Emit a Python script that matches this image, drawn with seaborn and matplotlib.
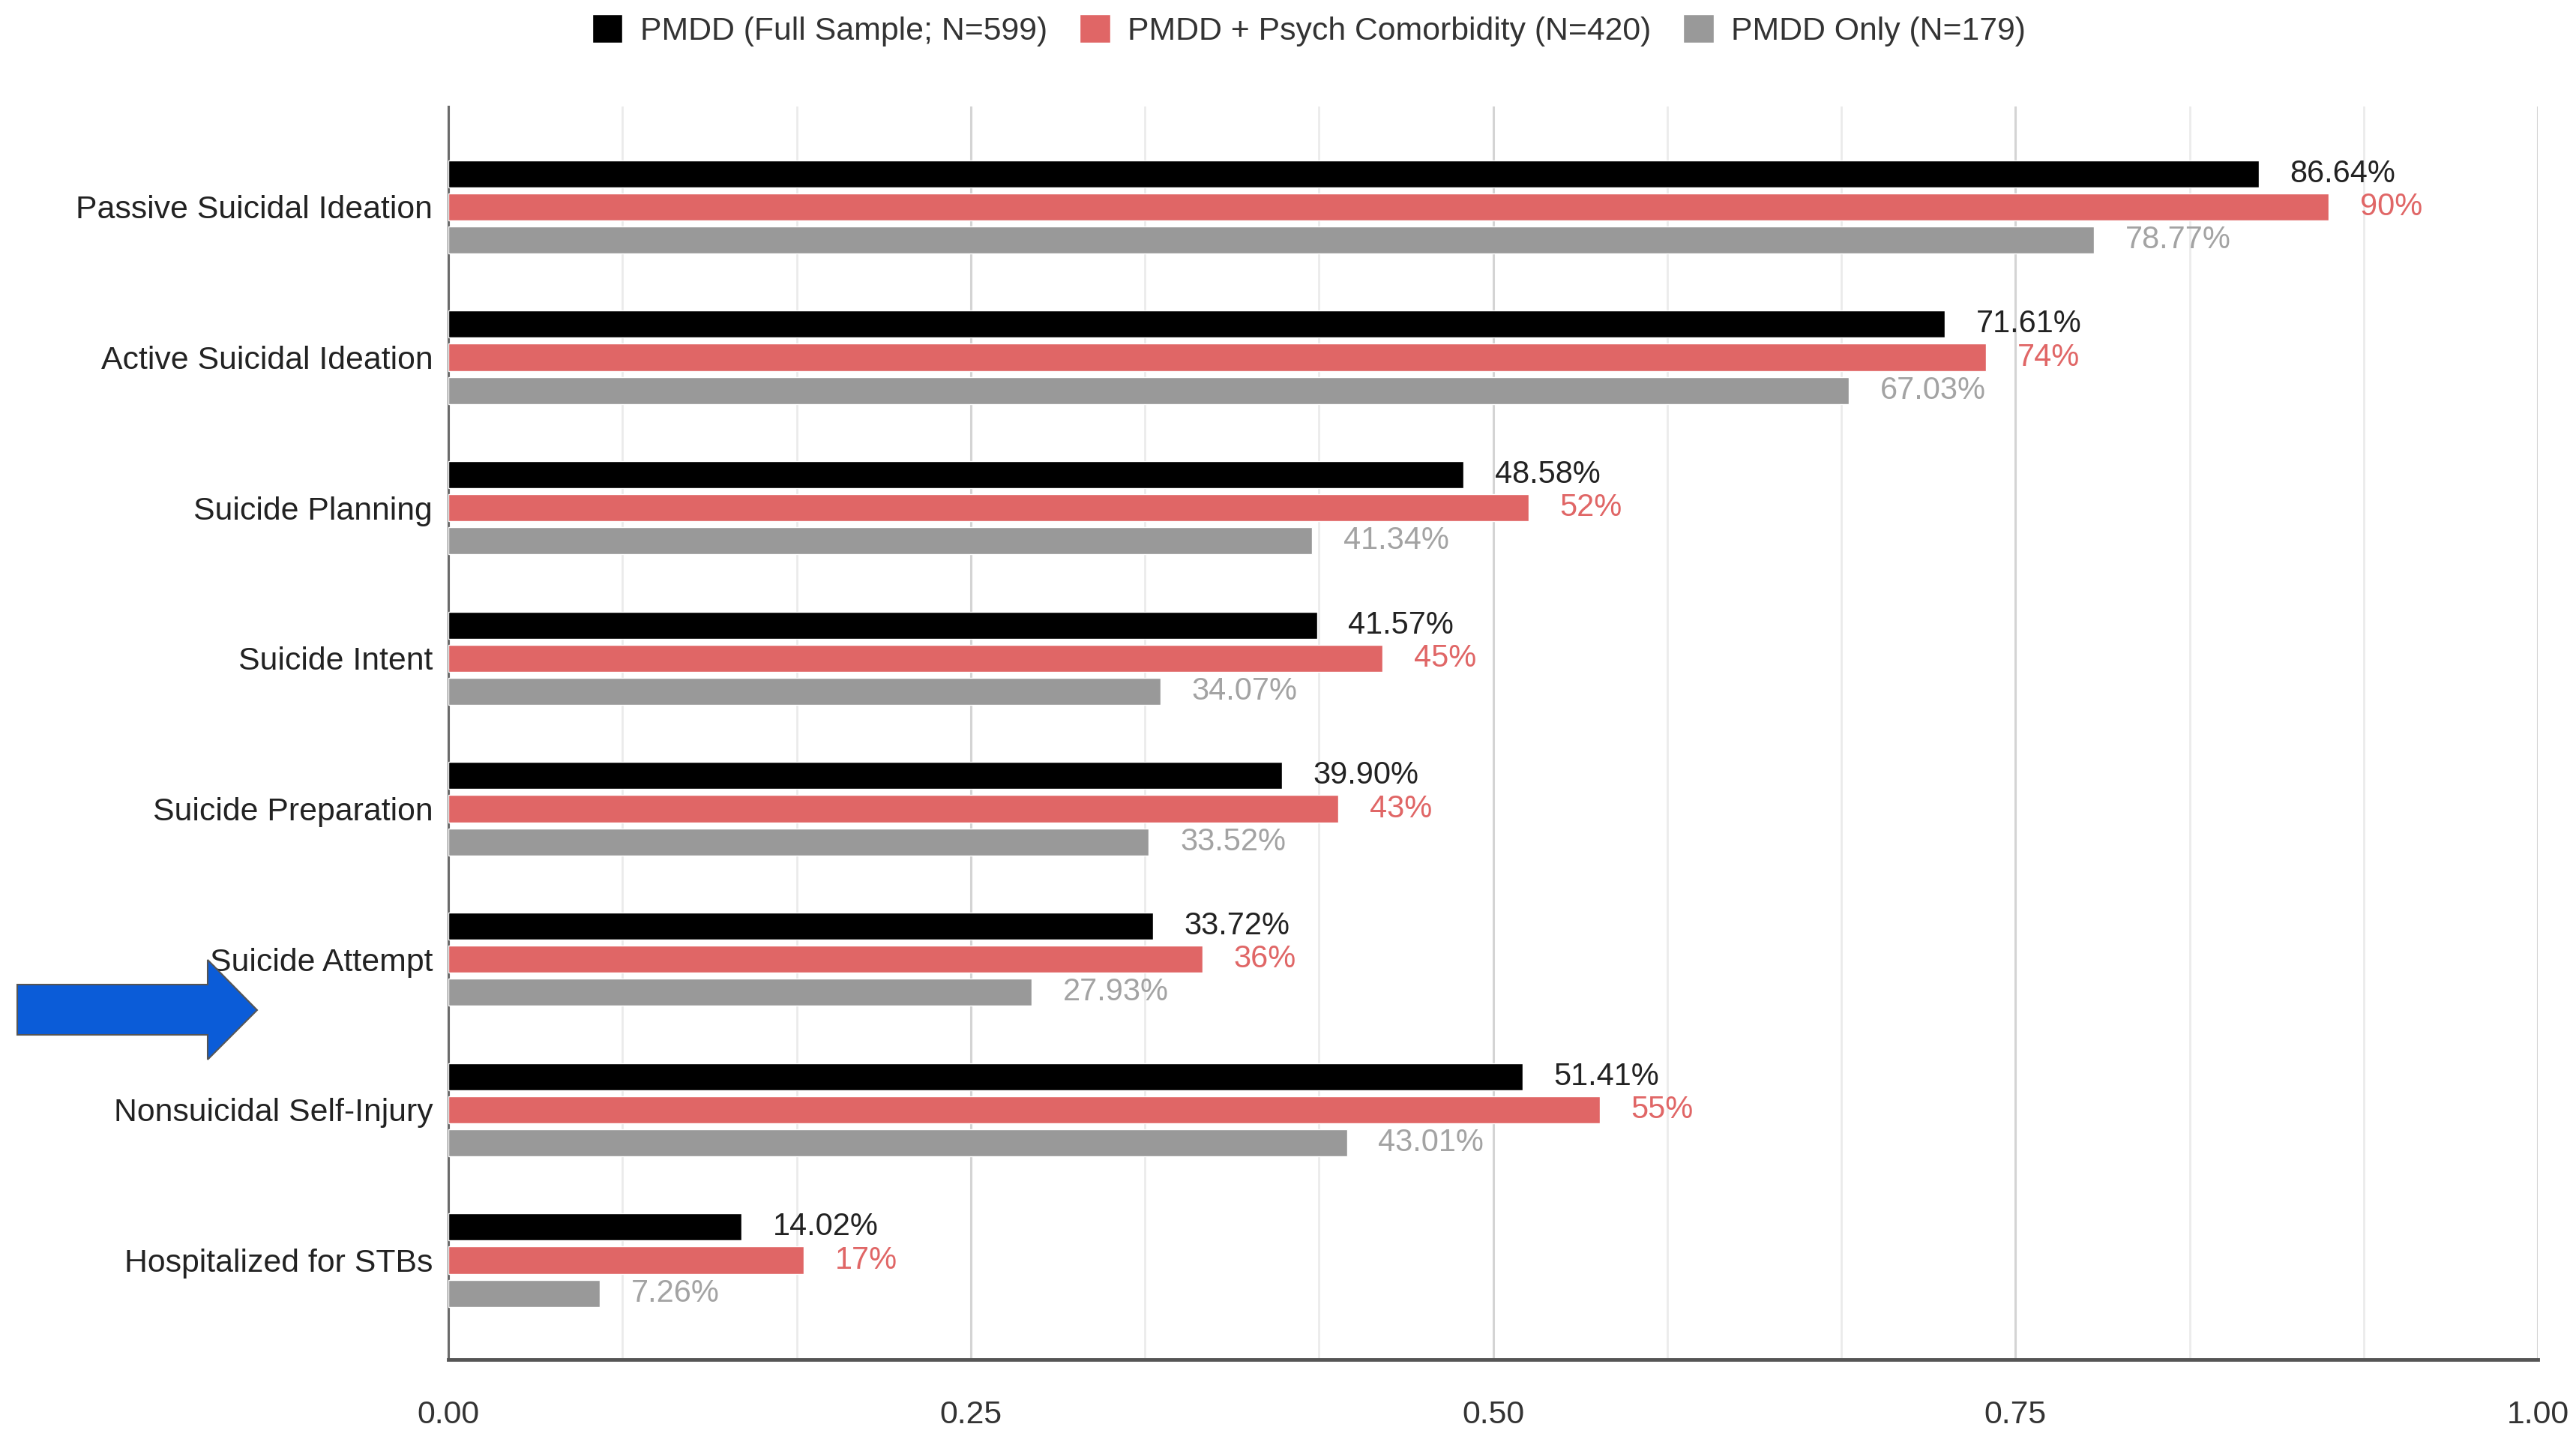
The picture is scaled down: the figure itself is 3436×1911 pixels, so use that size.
import matplotlib
matplotlib.use("Agg")
import matplotlib.pyplot as plt
from matplotlib import font_manager
from matplotlib.patches import Polygon
from matplotlib.ticker import MultipleLocator
import seaborn as sns
import pandas as pd

# ---------------- data ----------------
categories = [
    "Passive Suicidal Ideation",
    "Active Suicidal Ideation",
    "Suicide Planning",
    "Suicide Intent",
    "Suicide Preparation",
    "Suicide Attempt",
    "Nonsuicidal Self-Injury",
    "Hospitalized for STBs",
]
series_names = [
    "PMDD (Full Sample; N=599)",
    "PMDD + Psych Comorbidity (N=420)",
    "PMDD Only (N=179)",
]
full_sample = [86.64, 71.61, 48.58, 41.57, 39.90, 33.72, 51.41, 14.02]
comorbid = [90.0, 73.6, 51.7, 44.7, 42.6, 36.1, 55.1, 17.0]
pmdd_only = [78.77, 67.03, 41.34, 34.07, 33.52, 27.93, 43.01, 7.26]
x_ticks = [0.0, 0.25, 0.5, 0.75, 1.0]
x_tick_labels = ["0.00", "0.25", "0.50", "0.75", "1.00"]

colors = ["#000000", "#e06666", "#999999"]
label_colors = ["#222222", "#e06666", "#a3a3a3"]
label_fmts = ["{:.2f}%", "{:.0f}%", "{:.2f}%"]

# ---------------- fonts ----------------
names = {f.name for f in font_manager.fontManager.ttflist}
if "Liberation Sans Narrow" in names:
    FAMILY = ["Liberation Sans Narrow", "Liberation Sans", "DejaVu Sans"]
    FS = 37
else:
    FAMILY = ["Liberation Sans", "DejaVu Sans"]
    FS = 30.8

sns.set_style("white")
plt.rcParams["font.family"] = FAMILY

rows = []
for s, vals in zip(series_names, [full_sample, comorbid, pmdd_only]):
    for c, v in zip(categories, vals):
        rows.append({"category": c, "series": s, "value": v / 100.0, "pct": v})
df = pd.DataFrame(rows)

fig = plt.figure(figsize=(34.37, 19.11), dpi=100)
ax = fig.add_axes([0.174, 0.0513, 0.8109, 0.8744])

sns.barplot(
    data=df, y="category", x="value", hue="series",
    order=categories, hue_order=series_names,
    palette=colors, orient="h", width=0.66, gap=0.18,
    saturation=1, errorbar=None, ax=ax, zorder=3,
)

# value labels
for cont, name, col, fmt in zip(ax.containers, series_names, label_colors, label_fmts):
    vals = df[df["series"] == name].set_index("category").loc[categories, "pct"]
    ax.bar_label(cont, labels=[fmt.format(v) for v in vals], padding=30,
                 color=col, fontsize=FS * 0.97, family=FAMILY)

# axes styling
ax.set_xlim(0, 1)
ax.set_ylim(7.66, -0.667)
ax.set_xticks(x_ticks)
ax.set_xticklabels(x_tick_labels)
ax.xaxis.set_minor_locator(MultipleLocator(1 / 12))
ax.grid(axis="x", which="major", color="#d4d4d4", lw=2.2, zorder=0)
ax.grid(axis="x", which="minor", color="#ebebeb", lw=2.0, zorder=0)
ax.grid(axis="y", visible=False)
ax.set_axisbelow(True)
ax.set_xlabel("")
ax.set_ylabel("")

for side in ["top", "right"]:
    ax.spines[side].set_visible(False)
ax.spines["bottom"].set_color("#555555")
ax.spines["bottom"].set_linewidth(3.5)
ax.spines["left"].set_color("#6a6a6a")
ax.spines["left"].set_linewidth(2.2)

ax.tick_params(axis="x", which="major", direction="inout", length=22, width=2,
               color="#333333", pad=28, labelsize=FS, labelcolor="#333333")
ax.tick_params(axis="x", which="minor", length=0)
ax.tick_params(axis="y", length=0, pad=15, labelsize=FS, labelcolor="#222222")

# legend
handles, labels = ax.get_legend_handles_labels()
if ax.legend_ is not None:
    ax.legend_.remove()
fig.legend(handles, labels, loc="center", bbox_to_anchor=(0.508, 0.979),
           ncol=3, frameon=False, fontsize=FS, handlelength=0.95,
           handleheight=1.0, handletextpad=0.55, columnspacing=1.0,
           labelcolor="#333333")

# blue arrow annotation
W, H = 3437.0, 1911.0
pts_px = [(23, 1313), (277, 1313), (277, 1280), (343, 1347),
          (277, 1413), (277, 1380), (23, 1380)]
arrow = Polygon([(x / W, 1 - y / H) for x, y in pts_px], closed=True,
                transform=fig.transFigure, facecolor="#0b5cd8",
                edgecolor="#555555", lw=1.5, zorder=10)
fig.patches.append(arrow)

fig.savefig("out.png", dpi=100)
